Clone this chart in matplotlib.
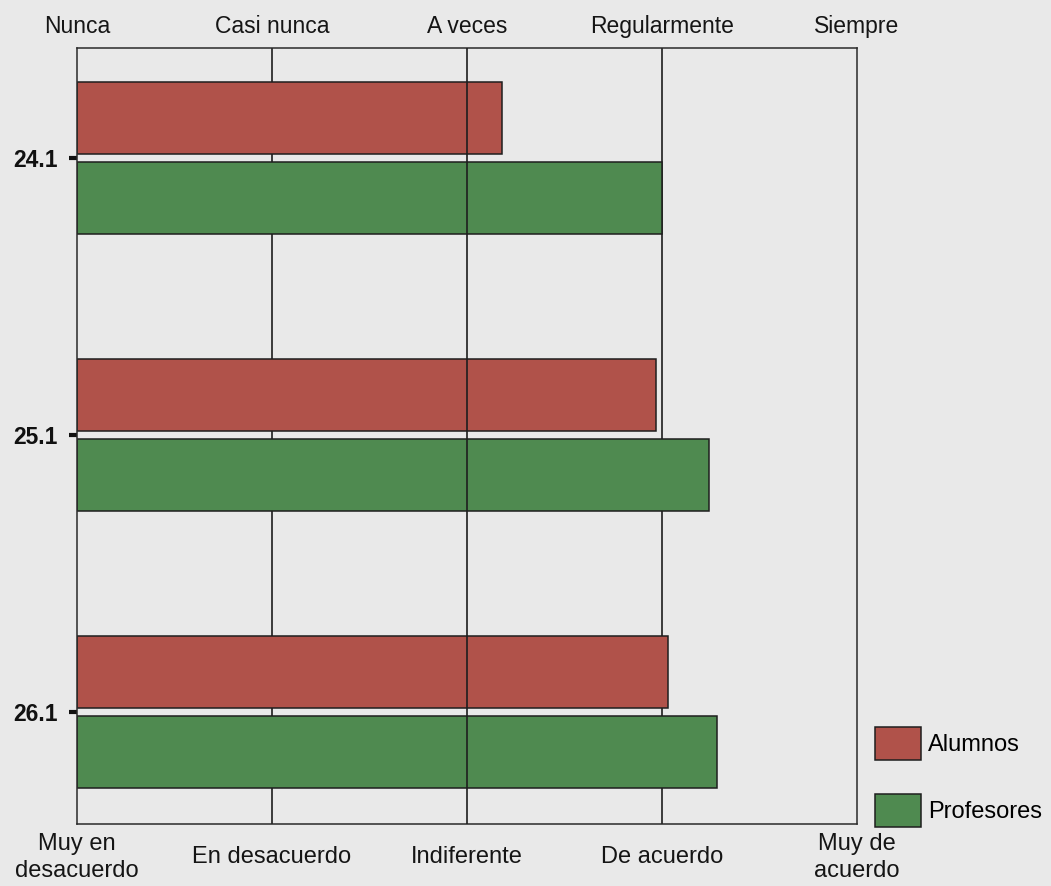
import matplotlib
matplotlib.use("Agg")
import matplotlib.pyplot as plt
from matplotlib.patches import Patch

# Data
items = ["24.1", "25.1", "26.1"]
alumnos = [3.18, 3.97, 4.03]
profesores = [4.00, 4.24, 4.28]
series_names = ["Alumnos", "Profesores"]
freq_labels = ["Nunca", "Casi nunca", "A veces", "Regularmente", "Siempre"]
agree_labels = ["Muy en\ndesacuerdo", "En desacuerdo", "Indiferente",
                "De acuerdo", "Muy de\nacuerdo"]
scale = [1, 2, 3, 4, 5]

plt.rcParams["font.family"] = ["Liberation Sans", "DejaVu Sans"]

bg = "#e9e9e9"
red = "#b0524a"
green = "#4f8a50"
ink = "#1e1e1e"

fig = plt.figure(figsize=(10.51, 8.86), dpi=100, facecolor=bg)
ax = fig.add_axes([77 / 1051, 1 - 824 / 886, 780 / 1051, 776 / 886])
ax.set_facecolor(bg)

pos = list(range(len(items)))
h = 0.26
off = 0.143
ax.barh([p - off for p in pos], [v - scale[0] for v in alumnos], left=scale[0],
        height=h, color=red, edgecolor=ink, linewidth=1.1, zorder=2)
ax.barh([p + off for p in pos], [v - scale[0] for v in profesores], left=scale[0],
        height=h, color=green, edgecolor=ink, linewidth=1.1, zorder=2)

# vertical reference lines
for x in (2, 4):
    ax.axvline(x, color=ink, linewidth=1.2, zorder=1)
ax.axvline(3, color=ink, linewidth=1.2, zorder=3)

ax.set_xlim(scale[0], scale[-1])
ax.set_ylim(2.404, -0.397)

for s in ax.spines.values():
    s.set_color("#2a2a2a")
    s.set_linewidth(1.1)

# y ticks
ax.set_yticks(pos)
ax.set_yticklabels(items, fontsize=16.5, fontweight="bold", color="#111111")
ax.tick_params(axis="y", length=6, width=3, pad=8, color="#111111")

# bottom labels (agreement scale)
ax.set_xticks(scale)
ax.set_xticklabels(agree_labels, fontsize=17, color="#151515", linespacing=1.32)
ax.tick_params(axis="x", length=0, pad=24)
for lab in ax.get_xticklabels():
    lab.set_verticalalignment("center")

# top labels (frequency scale)
top = ax.secondary_xaxis("top")
top.set_xticks(scale)
top.set_xticklabels(freq_labels, fontsize=16.5, color="#151515")
top.tick_params(axis="x", length=0, pad=7)
top.spines["top"].set_visible(False)

handles = [Patch(facecolor=red, edgecolor=ink, linewidth=1.1),
           Patch(facecolor=green, edgecolor=ink, linewidth=1.1)]
fig.legend(handles, series_names, loc="upper left",
           bbox_to_anchor=(875 / 1051, 1 - 727 / 886),
           frameon=False, fontsize=17, borderpad=0, borderaxespad=0,
           handlelength=1.95, handleheight=1.75, handletextpad=0.3,
           labelspacing=1.45)

fig.savefig("out.png", dpi=100, facecolor=bg)
